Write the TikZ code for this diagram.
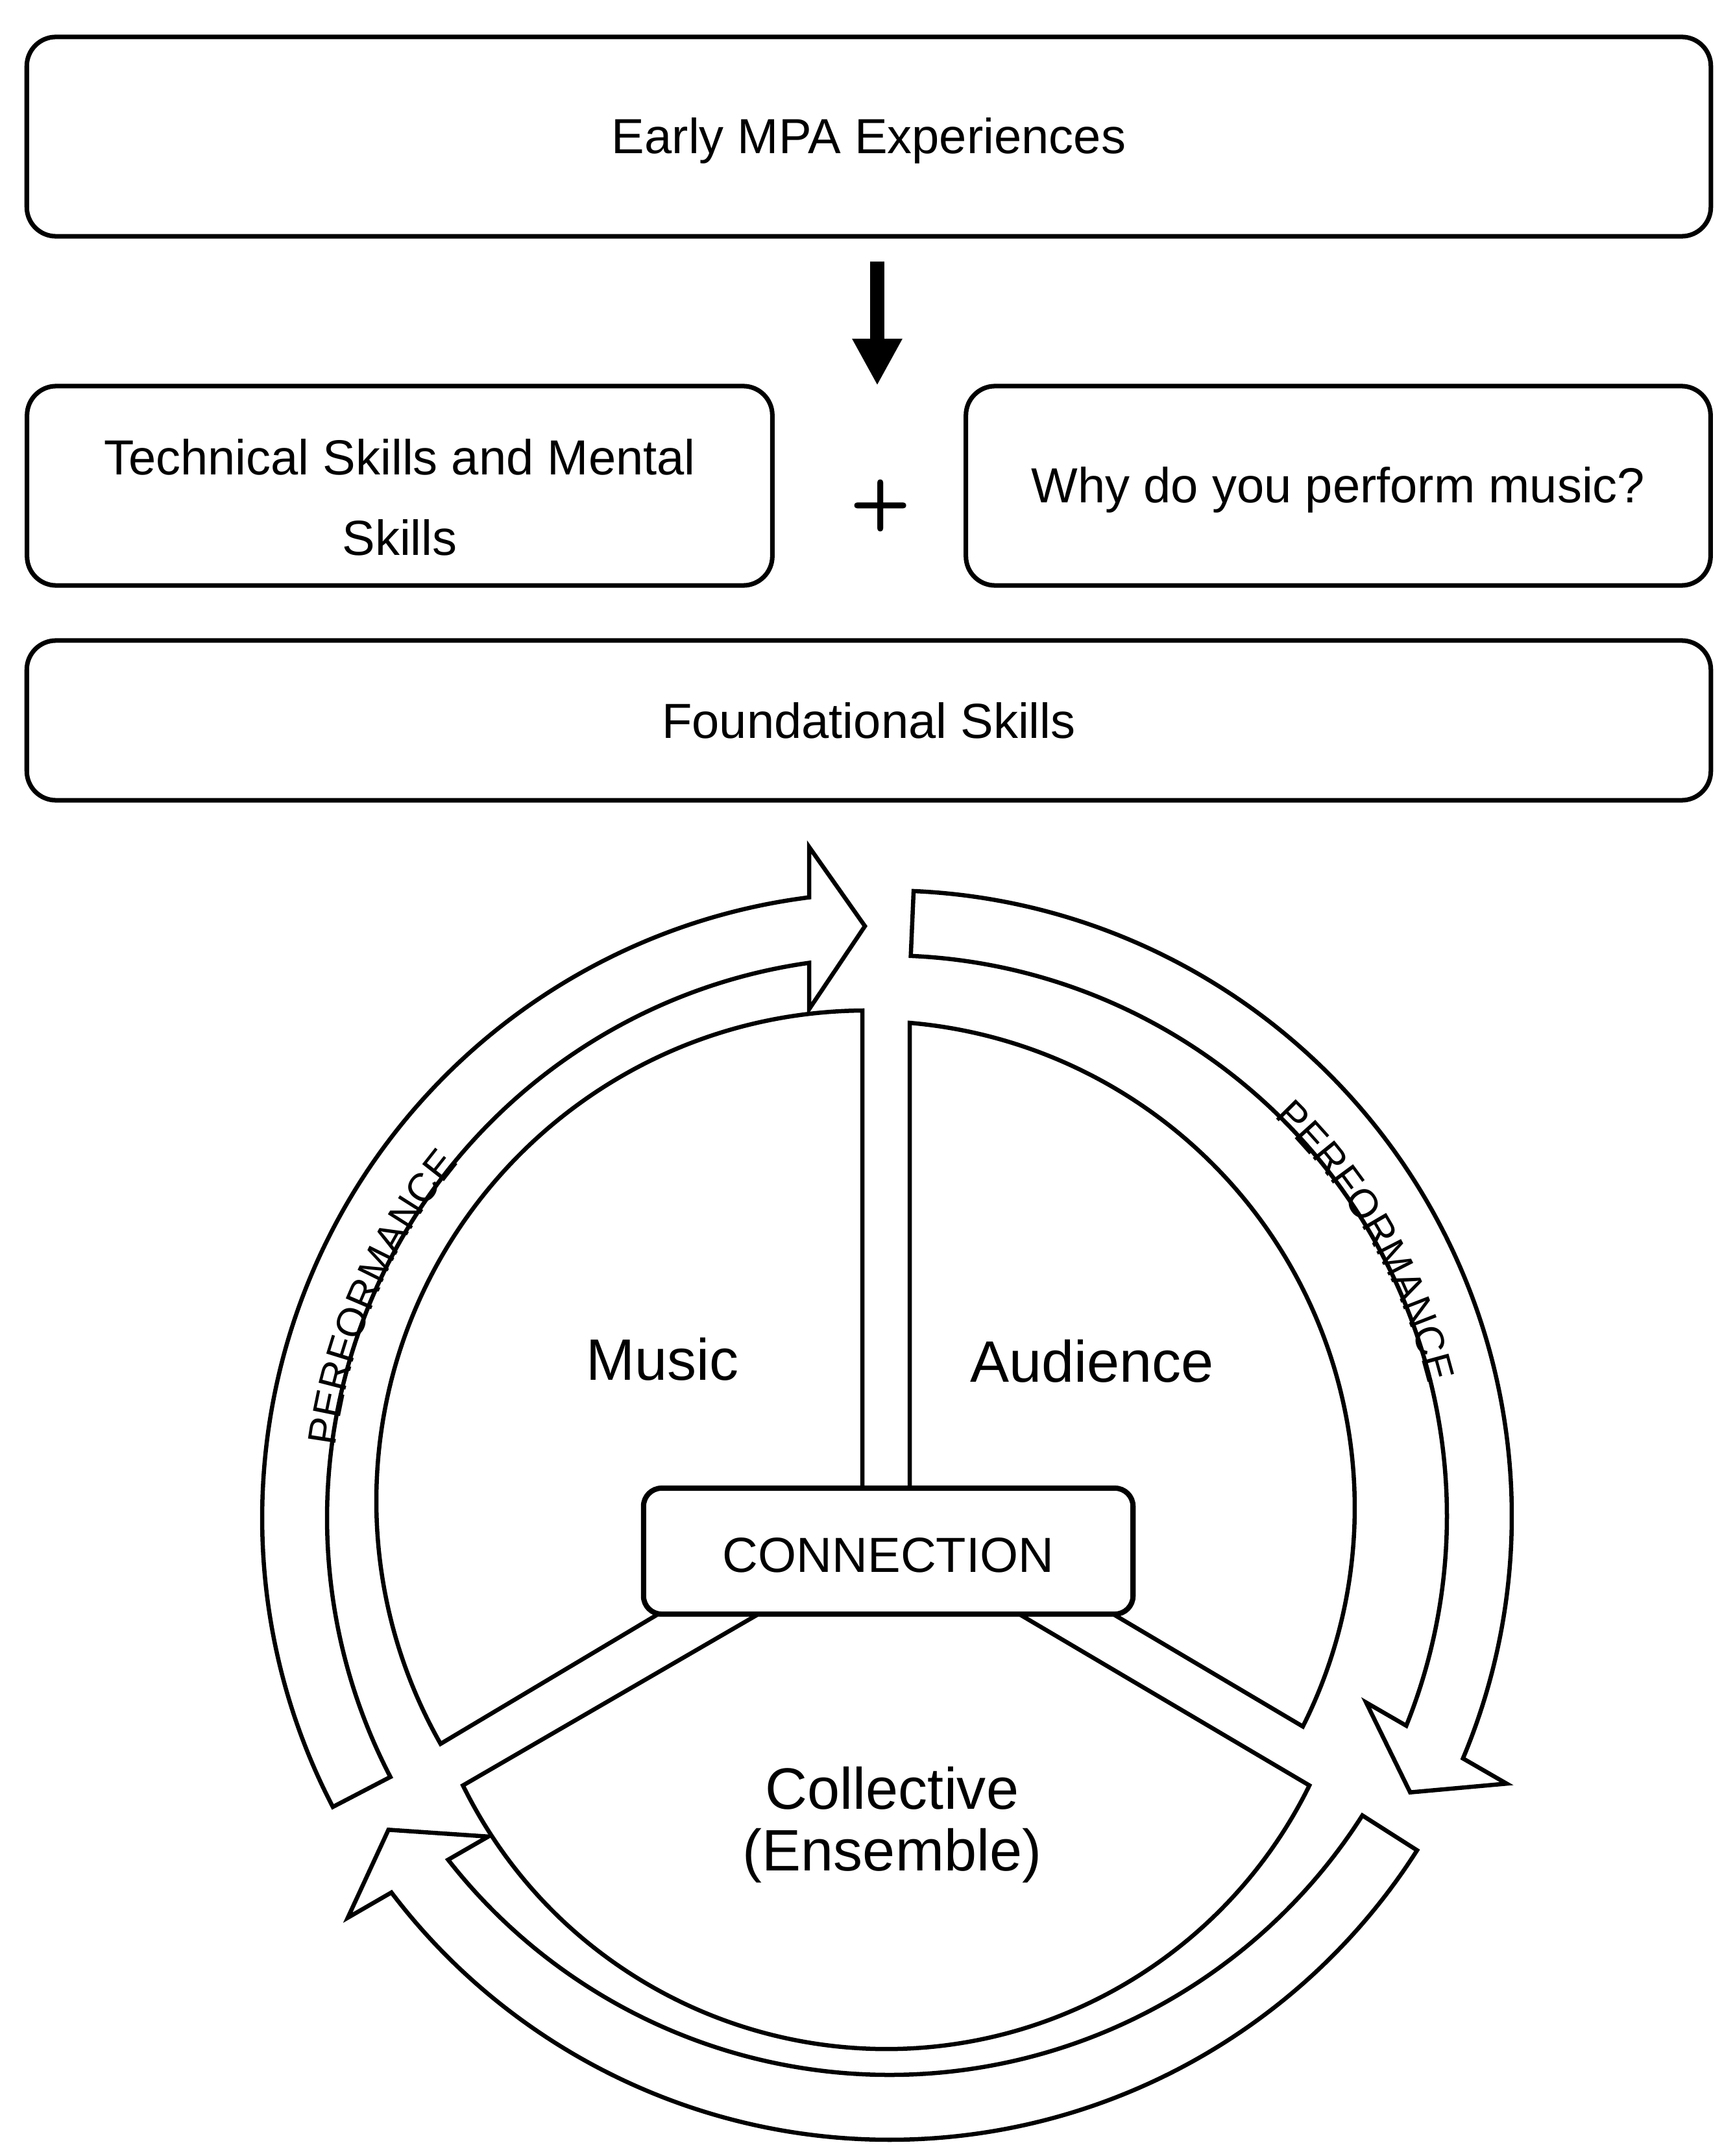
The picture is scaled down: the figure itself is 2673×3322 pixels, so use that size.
\documentclass[tikz,border=0pt]{standalone}
\usepackage{fontspec}
\setmainfont{Liberation Sans}
\usetikzlibrary{arrows.meta,decorations.text}

\newcommand\boxfont{\fontsize{21.6pt}{35.3pt}\selectfont}
\newcommand\secfont{\fontsize{25.6pt}{27pt}\selectfont}
\newcommand\perffont{\fontsize{17.6pt}{18pt}\selectfont}
\newcommand\plusfont{\sffamily\bfseries\fontsize{31pt}{31pt}\selectfont}
\newcommand\lowtext[2]{\raisebox{-#1}[\height][\depth]{#2}}

\begin{document}
\begin{tikzpicture}[x=0.01cm, y=0.01cm,
  topbox/.style={draw=black, line width=2pt, rounded corners=0.45cm, fill=white,
    inner sep=0pt, font=\boxfont, align=center},
  ringarrow/.style={draw=black, line width=1.85pt, fill=white, line join=miter},
  sector/.style={draw=black, line width=1.85pt, fill=white, line join=miter},
  conbox/.style={draw=black, line width=2.3pt, rounded corners=0.28cm, fill=white,
    minimum width=7.54cm, minimum height=1.94cm, inner sep=0pt, font=\boxfont},
  seclabel/.style={font=\secfont, inner sep=0pt},
  bigarrow/.style={line width=0.22cm, -{Triangle[width=0.72cm, length=0.72cm]}},
  perf/.style={decorate, decoration={text along path,
    text={|\perffont|PERFORMANCE}, text align=center}},
]
\useasboundingbox (0,0) rectangle (2673,-3322);

% ---------- top part ----------
\node[topbox, minimum width=25.94cm, minimum height=3.07cm] (early) at (1339,-210.5)
  {\lowtext{0.06cm}{Early MPA Experiences}};
\node[topbox, minimum width=11.48cm, minimum height=3.07cm] (tech) at (616,-748.5)
  {\lowtext{0.20cm}{\begin{tabular}{@{}c@{}}Technical Skills and Mental\\Skills\end{tabular}}};
\node[topbox, minimum width=11.47cm, minimum height=3.07cm] (why) at (2062.5,-748.5)
  {\lowtext{0.06cm}{Why do you perform music?}};
\node[topbox, minimum width=25.94cm, minimum height=2.46cm] (found) at (1339,-1110)
  {Foundational Skills};
\node[font=\plusfont, inner sep=0pt] (plus) at (1357,-779) {+};

\coordinate (aS) at (1352,-403);
\coordinate (aE) at (1352,-594);
\draw[bigarrow] (aS) -- (aE);

% ---------- ring arrows ----------
\begin{scope}[shift={(1368,-2339)}]
  \draw[ringarrow] (207.5:964) arc[start angle=207.5, end angle=97.21, radius=964]
    -- (-121,1034) -- (-35,912) -- (-121,784) -- (98.05:864)
    arc[start angle=98.05, end angle=207.5, radius=864] -- cycle;
\end{scope}
\begin{scope}[shift={(1366,-2336)}, rotate=-120]
  \draw[ringarrow] (207.5:964) arc[start angle=207.5, end angle=97.21, radius=964]
    -- (-121,1034) -- (-35,912) -- (-121,784) -- (98.05:864)
    arc[start angle=98.05, end angle=207.5, radius=864] -- cycle;
\end{scope}
\begin{scope}[shift={(1371,-2333)}, rotate=-240]
  \draw[ringarrow] (207.5:964) arc[start angle=207.5, end angle=97.21, radius=964]
    -- (-121,1034) -- (-35,912) -- (-121,784) -- (98.05:864)
    arc[start angle=98.05, end angle=207.5, radius=864] -- cycle;
\end{scope}

% ---------- sectors ----------
\draw[sector] (1329,-2400) -- (1329,-1557) arc[start angle=90.53, end angle=209.65, radius=756] -- (1100,-2436) -- cycle;
\draw[sector] (1402,-2400) -- (1402,-1576) arc[start angle=85.1, end angle=-26.7, radius=750] -- (1680,-2466) -- cycle;
\draw[sector] (1200,-2469) -- (713.5,-2751) arc[start angle=206.2, end angle=333.8, radius=727] -- (1530,-2463) -- cycle;

% ---------- centre box ----------
\node[conbox] (conn) at (1369,-2390) {\lowtext{0.06cm}{CONNECTION}};

% ---------- labels ----------
\node[seclabel, anchor=base] (music) at (1021,-2126) {Music};
\node[seclabel, anchor=base] (aud) at (1683,-2129) {Audience};
\node[seclabel, align=center] (coll) at (1375,-2812) {Collective\\(Ensemble)};

\begin{scope}[shift={(1368,-2339)}]
  \path[perf] (175:858) arc[start angle=175, end angle=138, radius=858];
  \path[perf] (47.5:858) arc[start angle=47.5, end angle=12.5, radius=858];
\end{scope}
\end{tikzpicture}
\end{document}
